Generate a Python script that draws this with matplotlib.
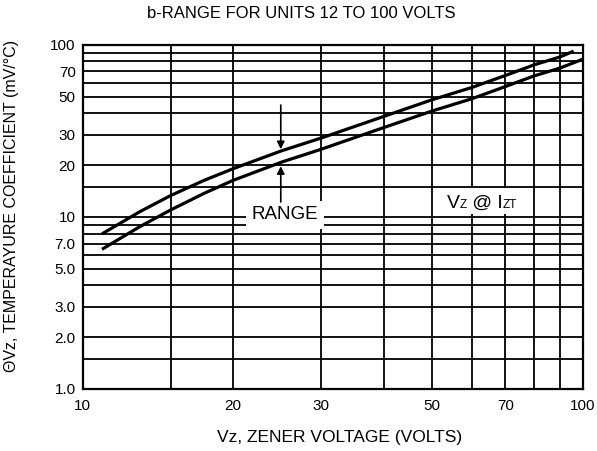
import matplotlib
matplotlib.use('Agg')
import matplotlib.pyplot as plt
from matplotlib.patches import Rectangle
from matplotlib.ticker import FixedLocator, FixedFormatter, NullFormatter

plt.rcParams['font.family'] = ['Liberation Sans', 'DejaVu Sans']

# ---- data ----
upper_v = [11, 13, 15, 17.5, 20, 25, 30, 40, 50, 60, 70, 80, 90, 95.3]
upper_t = [8.05, 10.7, 13.3, 16.3, 19.05, 24.2, 28.7, 38.3, 47.9, 56.4, 66.2, 76.4, 84.8, 91]
lower_v = [11, 13, 15, 17.5, 20, 25, 30, 40, 50, 60, 70, 80, 90, 100]
lower_t = [6.55, 8.76, 10.97, 13.7, 16.3, 20.8, 24.7, 33.0, 41.2, 48.5, 57.1, 65.9, 73.1, 82.3]

x_major = [10, 20, 30, 50, 70, 100]
x_major_labels = ['10', '20', '30', '50', '70', '100']
x_grid = [15, 20, 30, 40, 50, 60, 70, 80, 90]
y_major = [1, 2, 3, 5, 7, 10, 20, 30, 50, 70, 100]
y_major_labels = ['1.0', '2.0', '3.0', '5.0', '7.0', '10', '20', '30', '50', '70', '100']
y_grid = [1.5, 2, 3, 4, 5, 6, 7, 8, 9, 10, 15, 20, 30, 40, 50, 60, 70, 80, 90]

title = 'b-RANGE FOR UNITS 12 TO 100 VOLTS'
xlabel = 'Vz, ZENER VOLTAGE (VOLTS)'
ylabel = 'ΘVz, TEMPERAYURE COEFFICIENT (mV/°C)'

arrow_v = 24.9
down_arrow = (44.6, 24.7)   # from, to (mV/°C)
up_arrow = (12.2, 19.7)
range_pos = (25.4, 10.3)
vz_pos = (53.5, 11.3)

# ---- figure ----
fig = plt.figure(figsize=(5.97, 4.51), dpi=100)
ax = fig.add_axes([0.1385, 0.1375, 0.8375, 0.7634])
ax.set_xscale('log')
ax.set_yscale('log')
ax.set_xlim(10, 100)
ax.set_ylim(1, 100)

ax.xaxis.set_major_locator(FixedLocator(x_major))
ax.xaxis.set_major_formatter(FixedFormatter(x_major_labels))
ax.xaxis.set_minor_locator(FixedLocator(x_grid))
ax.xaxis.set_minor_formatter(NullFormatter())
ax.yaxis.set_major_locator(FixedLocator(y_major))
ax.yaxis.set_major_formatter(FixedFormatter(y_major_labels))
ax.yaxis.set_minor_locator(FixedLocator(y_grid))
ax.yaxis.set_minor_formatter(NullFormatter())

ax.tick_params(which='both', length=0, labelsize=11, colors='black')
ax.tick_params(axis='x', pad=7)
ax.tick_params(axis='y', pad=5)

ax.set_axisbelow(True)
ax.grid(True, which='both', color='black', lw=1.3)
for s in ax.spines.values():
    s.set_linewidth(1.6)
    s.set_color('black')

ax.plot(upper_v, upper_t, color='black', lw=2.3, zorder=3,
        solid_joinstyle='round')
ax.plot(lower_v, lower_t, color='black', lw=2.3, zorder=3,
        solid_joinstyle='round')

arrow_kw = dict(arrowstyle='-|>', color='black', lw=1.2, mutation_scale=11,
                shrinkA=0, shrinkB=0)
ax.annotate('', xy=(arrow_v, down_arrow[1]), xytext=(arrow_v, down_arrow[0]),
            arrowprops=arrow_kw, zorder=5)
ax.annotate('', xy=(arrow_v, up_arrow[1]), xytext=(arrow_v, up_arrow[0]),
            arrowprops=arrow_kw, zorder=5)

white = dict(facecolor='white', edgecolor='none', pad=4)
ax.text(range_pos[0], range_pos[1], 'RANGE', fontsize=13.5, ha='center',
        va='center', bbox=white, zorder=4)

# "Vz @ Izt" with small-cap subscripts on a white patch
ax.add_patch(Rectangle((0.713, 0.507), 0.165, 0.076, transform=ax.transAxes,
                       facecolor='white', edgecolor='none', zorder=3.5))
pieces = [('V', 14), ('Z', 8.5), (' @ I', 14), ('ZT', 8.5)]
prev = ax.text(vz_pos[0], vz_pos[1], pieces[0][0], fontsize=pieces[0][1],
               ha='left', va='baseline', zorder=4)
for txt, fs in pieces[1:]:
    prev = ax.annotate(txt, xy=(1, vz_pos[1]), xycoords=(prev, 'data'),
                       fontsize=fs, ha='left', va='baseline', zorder=4)

fig.text(0.505, 0.969, title, fontsize=12, ha='center', va='center')
fig.text(0.5695, 0.031, xlabel, fontsize=12.5, ha='center', va='center')
fig.text(0.02, 0.543, ylabel, fontsize=11.5, ha='center', va='center',
         rotation=90)

fig.savefig('out.png', dpi=100)
